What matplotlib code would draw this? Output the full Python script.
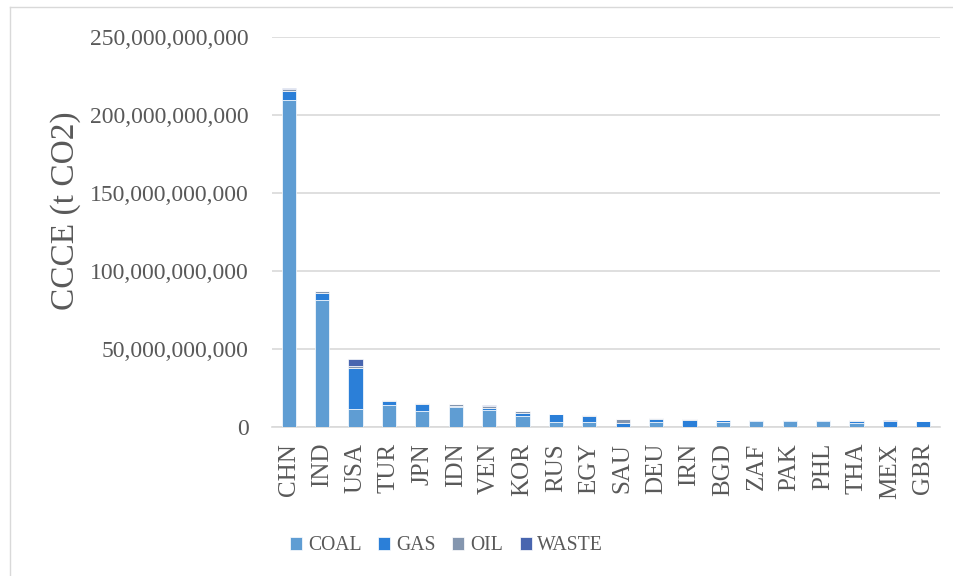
import matplotlib.pyplot as plt
import matplotlib.ticker as mticker
import numpy as np

# Emisi CCCE per negara (miliar t CO2) per jenis bahan bakar
countries = ["CHN", "IND", "USA", "TUR", "JPN", "IDN", "VEN", "KOR", "RUS", "EGY",
             "SAU", "DEU", "IRN", "BGD", "ZAF", "PAK", "PHL", "THA", "MEX", "GBR"]
coal = [209.5, 81.4, 11.5, 13.9, 10.5, 12.8, 10.9, 7.0, 3.4, 3.0,
        0.0, 3.2, 0.2, 3.4, 3.9, 3.8, 4.0, 2.4, 0.2, 0.3]
gas = [6.0, 4.3, 26.5, 2.5, 4.0, 0.9, 1.5, 2.1, 4.9, 4.3,
       2.4, 1.7, 4.6, 0.8, 0.3, 0.4, 0.2, 1.5, 3.6, 3.4]
oil = [1.0, 1.5, 1.0, 0.6, 0.6, 1.1, 1.3, 1.1, 0.2, 0.4,
       2.6, 0.6, 0.4, 0.2, 0.2, 0.2, 0.2, 0.4, 0.3, 0.2]
waste = [0.5, 0.2, 4.9, 0.1, 0.1, 0.1, 0.1, 0.1, 0.1, 0.1,
         0.3, 0.1, 0.1, 0.2, 0.1, 0.2, 0.1, 0.1, 0.1, 0.1]

series = [("COAL", coal, "#5f9dd3"), ("GAS", gas, "#2b7fd8"),
          ("OIL", oil, "#8496af"), ("WASTE", waste, "#4865af")]

plt.rcParams["font.family"] = ["Liberation Serif", "DejaVu Serif"]
teks = "#595959"

fig = plt.figure(figsize=(9.54, 5.76), dpi=100)
ax = fig.add_axes([272 / 954, 1 - 427 / 576, 668 / 954, 390 / 576])

x = np.arange(len(countries))
bottom = np.zeros(len(countries))
for name, vals, color in series:
    v = np.array(vals) * 1e9
    ax.bar(x, v, width=0.42, bottom=bottom, color=color, label=name,
           edgecolor="white", linewidth=0.5, zorder=3)
    bottom += v

ax.set_xlim(-0.5, len(countries) - 0.5)
ax.set_ylim(0, 250e9)
ax.yaxis.set_major_locator(mticker.MultipleLocator(50e9))
ax.yaxis.set_major_formatter(mticker.FuncFormatter(lambda v, p: f"{v:,.0f}"))
ax.grid(axis="y", color="#d9d9d9", linewidth=1.2, zorder=0)
for s in ["top", "right", "left"]:
    ax.spines[s].set_visible(False)
ax.spines["bottom"].set_color("#d9d9d9")
ax.spines["bottom"].set_linewidth(1.2)

ax.set_xticks(x)
ax.set_xticklabels(countries, rotation=90, fontsize=18, color=teks)
ax.tick_params(axis="x", length=0, pad=11.5)
ax.tick_params(axis="y", length=0, labelsize=17, labelcolor=teks, pad=17)
ax.set_ylabel("CCCE (t CO2)", fontsize=24, color=teks)
ax.yaxis.set_label_coords(-0.286, 0.554)

ax.legend(loc="center left", bbox_to_anchor=(0.027, -0.305), ncol=4, frameon=False,
          fontsize=14.2, labelcolor=teks, handlelength=0.62, handleheight=0.62,
          handletextpad=0.28, columnspacing=0.85, borderaxespad=0, borderpad=0)

# bingkai tipis di sekeliling area grafik
fig.add_artist(plt.Line2D([10 / 954, 10 / 954], [0, 1 - 7 / 576], transform=fig.transFigure,
                          color="#d9d9d9", linewidth=1))
fig.add_artist(plt.Line2D([10 / 954, 1], [1 - 7 / 576, 1 - 7 / 576], transform=fig.transFigure,
                          color="#d9d9d9", linewidth=1))

fig.savefig("out.png", dpi=100)
